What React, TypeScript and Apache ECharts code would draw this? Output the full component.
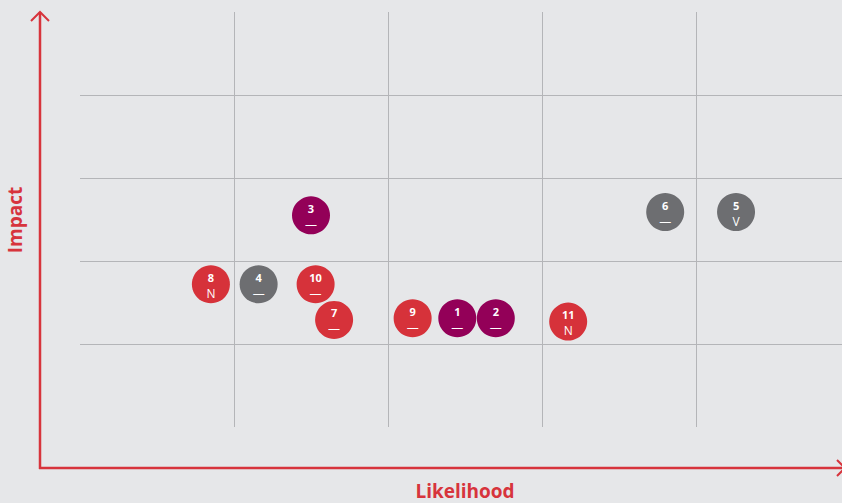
import React, { useEffect, useRef } from "react";
import * as echarts from "echarts";

const riskIds = ["1", "2", "3", "4", "5", "6", "7", "8", "9", "10", "11"];
const likelihood = [2.45, 2.7, 1.5, 1.16, 4.26, 3.8, 1.65, 0.85, 2.16, 1.53, 3.17];
const impact = [1.31, 1.31, 2.55, 1.72, 2.59, 2.59, 1.29, 1.72, 1.31, 1.72, 1.27];
const groups = ["purple", "purple", "purple", "gray", "gray", "gray", "red", "red", "red", "red", "red"];
const trends = ["—", "—", "—", "—", "V", "—", "—", "N", "—", "—", "N"];
const groupColors: Record<string, string> = { purple: "#930058", gray: "#6d6e71", red: "#d6323a" };
const axisTitles = { x: "Likelihood", y: "Impact" };
const axisMin = 0;
const axisMax = 5;

export default function App() {
  const ref = useRef<HTMLDivElement>(null);
  useEffect(() => {
    if (!ref.current) return;
    const chart = echarts.init(ref.current, undefined, { renderer: "svg" });
    const red = "#d7343c";
    const data = riskIds.map((id, i) => ({
      value: [likelihood[i], impact[i]],
      name: id,
      trend: trends[i],
      itemStyle: { color: groupColors[groups[i]], opacity: 1 },
    }));
    const font = "'Open Sans', Lato, sans-serif";
    chart.setOption({
      animation: false,
      backgroundColor: "#e6e7e9",
      grid: { left: 80, top: 12, width: 770, height: 415, outerBoundsMode: "none", containLabel: false },
      xAxis: {
        type: "value",
        min: axisMin,
        max: axisMax,
        interval: 1,
        axisLine: { show: false },
        axisTick: { show: false },
        axisLabel: { show: false },
        splitLine: { show: true, showMinLine: false, showMaxLine: false, lineStyle: { color: "#b4b5b8", width: 1 } },
      },
      yAxis: {
        type: "value",
        min: axisMin,
        max: axisMax,
        interval: 1,
        axisLine: { show: false },
        axisTick: { show: false },
        axisLabel: { show: false },
        splitLine: { show: true, showMinLine: false, showMaxLine: false, lineStyle: { color: "#b4b5b8", width: 1 } },
      },
      series: [
        {
          type: "scatter",
          symbol: "circle",
          symbolSize: 38,
          data,
          label: {
            show: true,
            position: "inside",
            offset: [0, 1],
            formatter: (p: any) => `{n|${p.name}}\n{t|${p.data.trend}}`,
            rich: {
              n: { color: "#fff", fontSize: 11, fontWeight: "bold", fontFamily: font, lineHeight: 16, align: "center" },
              t: { color: "#fff", fontSize: 12, fontFamily: font, lineHeight: 16, align: "center" },
            },
          },
        },
      ],
      graphic: [
        { type: "line", shape: { x1: 40, y1: 12, x2: 40, y2: 469 }, style: { stroke: red, lineWidth: 2.5 } },
        { type: "line", shape: { x1: 39, y1: 468, x2: 845, y2: 468 }, style: { stroke: red, lineWidth: 2.5 } },
        { type: "polyline", shape: { points: [[31, 21], [40, 12], [49, 21]] }, style: { stroke: red, lineWidth: 2, fill: "none" } },
        { type: "polyline", shape: { points: [[837, 460], [845, 468], [837, 476]] }, style: { stroke: red, lineWidth: 2, fill: "none" } },
        {
          type: "text",
          x: 465,
          y: 491,
          style: { text: axisTitles.x, fill: red, font: `bold 19px ${font}`, align: "center", verticalAlign: "middle" },
        },
        {
          type: "text",
          x: 15,
          y: 220,
          rotation: Math.PI / 2,
          style: { text: axisTitles.y, fill: red, font: `bold 19px ${font}`, align: "center", verticalAlign: "middle" },
        },
      ],
    });
    return () => chart.dispose();
  }, []);
  return <div ref={ref} style={{ position: "fixed", left: 0, top: 0, width: 842, height: 503 }} />;
}
